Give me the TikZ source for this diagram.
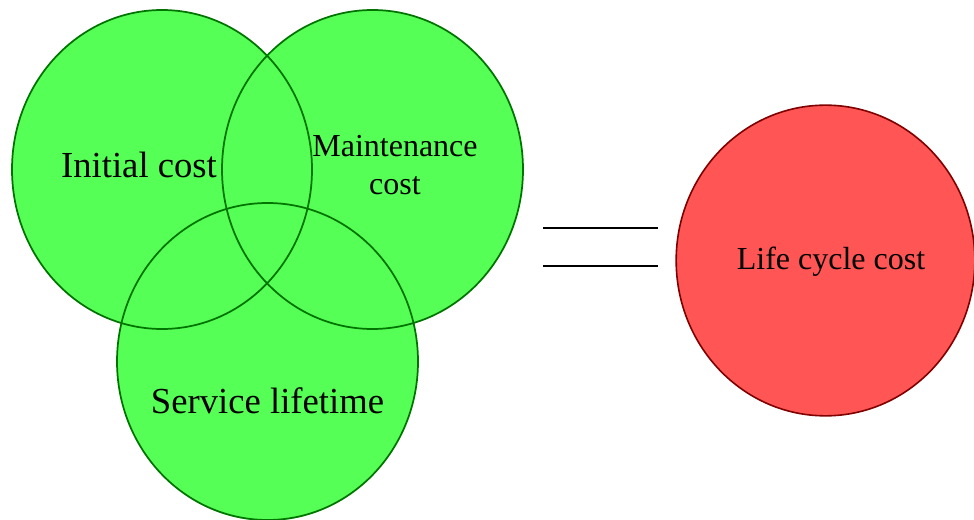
\documentclass[tikz,border=0pt]{standalone}
\usepackage{fontspec}
\setmainfont{Liberation Serif}
\usetikzlibrary{shapes.geometric}
\definecolor{setfill}{RGB}{85,255,85}
\definecolor{setline}{RGB}{0,115,0}
\definecolor{totalfill}{RGB}{255,85,85}
\definecolor{totalline}{RGB}{128,0,0}
\tikzset{
  setdisk/.style={ellipse, inner sep=0pt, fill=setfill, draw=none,
    minimum width=225pt, minimum height=239pt},
  setrim/.style={draw=setline, line width=1.3pt},
  totaldisk/.style={ellipse, inner sep=0pt, fill=totalfill, draw=totalline, line width=1.2pt,
    minimum width=224pt, minimum height=233pt},
  biglabel/.style={anchor=base, inner sep=0pt, font=\fontsize{27.5}{33}\selectfont},
  midlabel/.style={anchor=base, inner sep=0pt, font=\fontsize{24}{28.5}\selectfont},
  equalbar/.style={line width=1.5pt, black}
}
\begin{document}
\begin{tikzpicture}[x=0.75pt, y=-0.75pt]
\useasboundingbox (0,0) rectangle (974,520);
% three overlapping cost factors: fills first, rims on top
\node[setdisk] (initial) at (162,169.5) {};
\node[setdisk] (maint) at (372.5,169.5) {};
\node[setdisk] (service) at (267.5,361.5) {};
\draw[setrim] (initial.center) ellipse (150 and 159.5);
\draw[setrim] (maint.center) ellipse (150.5 and 159.5);
\draw[setrim] (service.center) ellipse (150.5 and 158.5);
% labels
\node[biglabel] (initialtxt) at (139,178) {Initial cost};
\node[midlabel] (mainttxt1) at (395,157) {Maintenance};
\node[midlabel] (mainttxt2) at (395,195) {cost};
\node[biglabel] (servicetxt) at (267.5,413) {Service lifetime};
% equals sign
\coordinate (eqa1) at (543,227.7);
\coordinate (eqb1) at (658,227.7);
\coordinate (eqa2) at (543,266);
\coordinate (eqb2) at (658,266);
\draw[equalbar] (eqa1) -- (eqb1);
\draw[equalbar] (eqa2) -- (eqb2);
% result
\node[totaldisk] (lcc) at (825.5,260.5) {};
\node[midlabel] (lcctxt) at (831,270) {Life cycle cost};
\end{tikzpicture}
\end{document}
